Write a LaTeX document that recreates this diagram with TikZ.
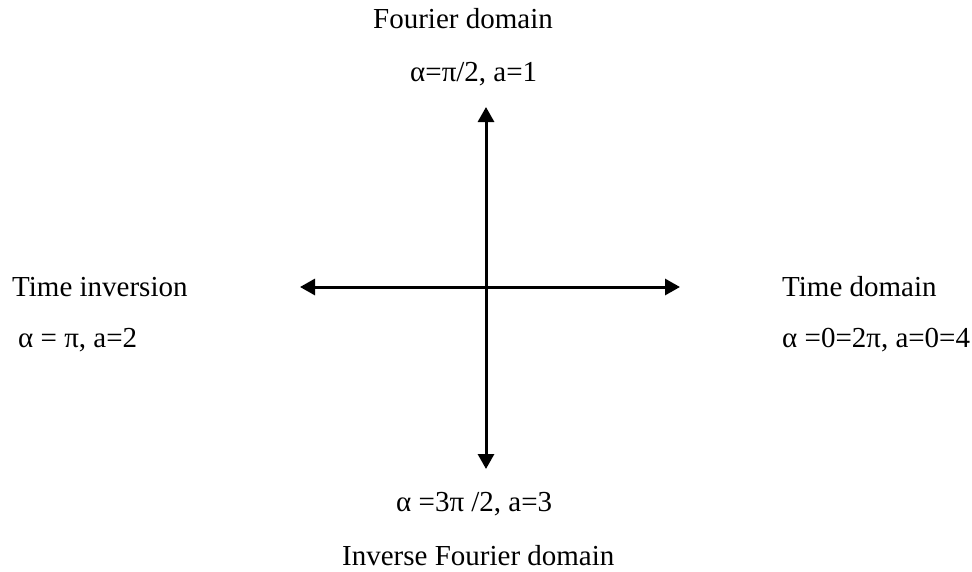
\documentclass[tikz,border=0pt]{standalone}
\usepackage{fontspec}
\setmainfont{Liberation Serif}
\usetikzlibrary{arrows.meta}
\begin{document}
\begin{tikzpicture}[x=1pt,y=-1pt,
  lbl/.style={anchor=base west,inner sep=0pt,font=\fontsize{29}{34}\selectfont},
  axis/.style={line width=3pt,{Triangle[length=15pt,width=16pt]}-{Triangle[length=15pt,width=16pt]}}]
\useasboundingbox (0,0) rectangle (972,571);
% axis end points
\coordinate (top) at (486,107);
\coordinate (bottom) at (486,469);
\coordinate (left) at (300,287);
\coordinate (right) at (680,287);
\draw[axis] (top) -- (bottom);
\draw[axis] (left) -- (right);
% labels
\node[lbl] (fourier) at (373,28) {Fourier domain};
\node[lbl] (fourierval) at (410,81) {α=π/2, a=1};
\node[lbl] (inv) at (12,296) {Time inversion};
\node[lbl] (invval) at (18,347) {α = π, a=2};
\node[lbl] (time) at (782,296) {Time domain};
\node[lbl] (timeval) at (782,347) {α =0=2π, a=0=4};
\node[lbl] (ifourierval) at (396,511) {α =3π /2, a=3};
\node[lbl] (ifourier) at (342,565) {Inverse Fourier domain};
\end{tikzpicture}
\end{document}
